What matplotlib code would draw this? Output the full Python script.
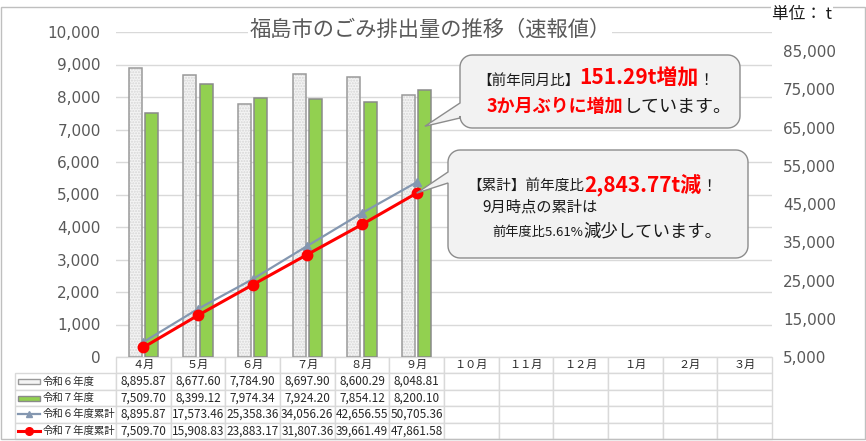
import numpy as np
import matplotlib
matplotlib.use("Agg")
import matplotlib.pyplot as plt
from matplotlib.patches import Rectangle, Polygon
from matplotlib.ticker import FuncFormatter
from matplotlib.table import Table

plt.rcParams['font.family'] = ['Noto Sans CJK JP', 'DejaVu Sans']

# data (tons)
months = ['４月', '５月', '６月', '７月', '８月', '９月',
          '１０月', '１１月', '１２月', '１月', '２月', '３月']
series_names = ['令和６年度', '令和７年度', '令和６年度累計', '令和７年度累計']
r6 = [8895.87, 8677.60, 7784.90, 8697.90, 8600.29, 8048.81]
r7 = [7509.70, 8399.12, 7974.34, 7924.20, 7854.12, 8200.10]
r6_cum = [8895.87, 17573.46, 25358.36, 34056.26, 42656.55, 50705.36]
r7_cum = [7509.70, 15908.83, 23883.17, 31807.36, 39661.49, 47861.58]

W, H = 866, 441
fig = plt.figure(figsize=(W / 100, H / 100), dpi=100)

# plot area in pixels (left, top, right, bottom)
L, T, R, B = 116, 32, 772, 357
ax = fig.add_axes([L / W, 1 - B / H, (R - L) / W, (B - T) / H])
ax2 = ax.twinx()

x = np.arange(len(r6))
ax.bar(x - 0.15, r6, width=0.24, color='#F4F4F4', edgecolor='#D6D6D6',
       hatch='......', lw=0, zorder=2)
ax.bar(x - 0.15, r6, width=0.24, fill=False, edgecolor='#9A9A9A', lw=1.1, zorder=3)
ax.bar(x + 0.15, r7, width=0.24, color='#92D050', edgecolor='#8A8A8A', lw=1.1, zorder=3)

ax.set_xlim(-0.5, len(months) - 0.5)
ax.set_ylim(0, 10000)
ax.set_yticks(np.arange(0, 10001, 1000))
ax.yaxis.set_major_formatter(FuncFormatter(lambda v, p: f'{int(v):,}'))
ax.set_xticks([])
ax.yaxis.grid(True, color='#D9D9D9', lw=1)
ax.set_axisbelow(True)
ax.tick_params(axis='y', length=0, pad=11, labelsize=11, labelcolor='#595959')
for lab in ax.get_yticklabels():
    lab.set_fontfamily('DejaVu Sans')

ax2.plot(x, r6_cum, color='#8497B0', lw=1.6, marker='^', ms=6, zorder=4)
ax2.plot(x, r7_cum, color='#FF0000', lw=2.2, marker='o', ms=7.5, zorder=5)
ax2.set_ylim(5000, 90000)
ax2.set_yticks(np.arange(5000, 85001, 10000))
ax2.yaxis.set_major_formatter(FuncFormatter(lambda v, p: f'{int(v):,}'))
ax2.tick_params(axis='y', length=0, pad=8, labelsize=11, labelcolor='#595959')
for lab in ax2.get_yticklabels():
    lab.set_fontfamily('DejaVu Sans')

for a in (ax, ax2):
    for s in a.spines.values():
        s.set_visible(False)

# data table under the plot
aw, ah = R - L, B - T
label_w = (L - 15) / aw
tbl_h = (439 - B) / ah
rh = tbl_h / 5
cw = 1 / len(months)
cell_text = [[f'{v:,.2f}' for v in s] + [''] * (len(months) - len(s))
             for s in (r6, r7, r6_cum, r7_cum)]
tbl = Table(ax, bbox=[-label_w, -tbl_h, 1 + label_w, tbl_h])
tbl.auto_set_font_size(False)
for c, m in enumerate(months):
    cell = tbl.add_cell(0, c + 1, cw, rh, text=m, loc='center')
    cell.get_text().set_fontsize(8)
for r, name in enumerate(series_names):
    cell = tbl.add_cell(r + 1, 0, label_w, rh, text=name, loc='left')
    cell.PAD = 0.27
    cell.get_text().set_fontsize(7.5)
    for c, s in enumerate(cell_text[r]):
        cell = tbl.add_cell(r + 1, c + 1, cw, rh, text=s, loc='center')
        cell.get_text().set_fontsize(8.5)
for cell in tbl.get_celld().values():
    cell.set_edgecolor('#D9D9D9')
    cell.set_linewidth(1)
    cell.get_text().set_color('#262626')
ax.add_table(tbl)

# legend swatches in the row label cells
sx0, sx1 = (18 - L) / aw, (40 - L) / aw
sh = 5 / ah
for i in range(4):
    yc = -(i + 1.5) * rh
    if i == 0:
        ax.add_patch(Rectangle((sx0, yc - sh / 2), sx1 - sx0, sh, transform=ax.transAxes,
                               facecolor='#F4F4F4', edgecolor='#9A9A9A', lw=1,
                               clip_on=False, zorder=5))
    elif i == 1:
        ax.add_patch(Rectangle((sx0, yc - sh / 2), sx1 - sx0, sh, transform=ax.transAxes,
                               facecolor='#92D050', edgecolor='#8A8A8A', lw=1,
                               clip_on=False, zorder=5))
    else:
        col, mk, ms, lw = (('#8497B0', '^', 5, 1.6) if i == 2 else ('#FF0000', 'o', 5.5, 2.2))
        ax.plot([sx0, sx1], [yc, yc], color=col, lw=lw, transform=ax.transAxes,
                clip_on=False, zorder=5)
        ax.plot([(sx0 + sx1) / 2], [yc], color=col, marker=mk, ms=ms,
                transform=ax.transAxes, clip_on=False, zorder=6)

# frame around the whole chart
fig.add_artist(Rectangle((1 / W, 2 / H), 864 / W, 432 / H, transform=fig.transFigure,
                         fill=False, edgecolor='#BFBFBF', lw=1, zorder=0.5))

fig.text(430 / W, 1 - 30 / H, '福島市のごみ排出量の推移（速報値）', ha='center', va='center',
         fontsize=15.3, color='#595959', zorder=6,
         bbox=dict(facecolor='white', edgecolor='none', pad=1))
fig.text(772 / W, 1 - 15 / H, '単位： t', ha='left', va='center', fontsize=12,
         color='#1a1a1a', zorder=6,
         bbox=dict(facecolor='white', edgecolor='none', pad=1))


def callout(x0, y0, x1, y1, tb0, tb1, tip, r=12):
    def arc(cx, cy, a0, a1):
        t = np.radians(np.linspace(a0, a1, 10))
        return list(zip(cx + r * np.cos(t), cy + r * np.sin(t)))
    pts = [(x0 + r, y0), (x1 - r, y0)]
    pts += arc(x1 - r, y0 + r, -90, 0)
    pts += [(x1, y1 - r)]
    pts += arc(x1 - r, y1 - r, 0, 90)
    pts += [(x0 + r, y1)]
    pts += arc(x0 + r, y1 - r, 90, 180)
    pts += [(x0, tb1), tip, (x0, tb0), (x0, y0 + r)]
    pts += arc(x0 + r, y0 + r, 180, 270)
    pts = [(px / W, 1 - py / H) for px, py in pts]
    fig.add_artist(Polygon(pts, closed=True, transform=fig.transFigure,
                           facecolor='#F2F2F2', edgecolor='#8C8C8C', lw=1, zorder=2))


def to_px(a, xv, yv):
    dx, dy = a.transData.transform((xv, yv))
    return dx, H - dy


callout(460, 55, 740, 128, 103, 118, to_px(ax, 5.15, 7100))
callout(448, 150, 748, 258, 172, 183, to_px(ax2, 5, r7_cum[5]))

renderer = fig.canvas.get_renderer()


def runs(xp, yp, parts):
    for s, kw in parts:
        t = fig.text(xp / W, 1 - yp / H, s, ha='left', va='baseline', zorder=7, **kw)
        xp += t.get_window_extent(renderer).width


blk = dict(color='#1a1a1a')
red = dict(color='#FF0000', fontweight='bold')
runs(477, 85, [('【前年同月比】', dict(fontsize=10.5, **blk)),
               ('151.29t増加', dict(fontsize=15, **red)),
               ('！', dict(fontsize=11, **blk))])
runs(487, 112, [('3か月ぶりに増加', dict(fontsize=13, **red)),
                ('しています。', dict(fontsize=13, **blk))])
runs(467, 191, [('【累計】前年度比', dict(fontsize=10.5, **blk)),
                ('2,843.77t減', dict(fontsize=15, **red)),
                ('！', dict(fontsize=11, **blk))])
runs(482, 212, [('9月時点の累計は', dict(fontsize=11, **blk))])
runs(492, 236, [('前年度比5.61%', dict(fontsize=9.5, **blk)),
                ('減少しています。', dict(fontsize=12.5, **blk))])

fig.savefig('out.png', dpi=100)
